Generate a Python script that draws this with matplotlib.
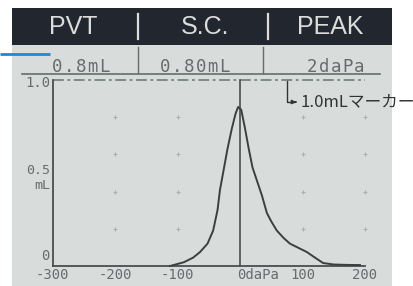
import numpy as np
import matplotlib
matplotlib.use("Agg")
import matplotlib.pyplot as plt

# tympanogram trace (daPa, mL)
pressure = [-112, -90, -75, -64, -52, -43, -36, -32, -26, -20, -13, -7, -3,
            2, 8, 14, 20, 28, 35, 43, 50, 59, 70, 80, 95, 107, 120, 133, 150, 170, 192]
volume = [0.0, 0.02, 0.045, 0.075, 0.12, 0.19, 0.30, 0.41, 0.52, 0.63, 0.74, 0.82, 0.855,
          0.84, 0.74, 0.63, 0.53, 0.45, 0.38, 0.285, 0.24, 0.19, 0.15, 0.12, 0.095, 0.075,
          0.045, 0.016, 0.008, 0.006, 0.005]

header_labels = ["PVT", "S.C.", "PEAK"]
result_labels = ["0.8mL", "0.80mL", "2daPa"]
x_ticks = [-300, -200, -100, 0, 100, 200]
x_tick_labels = ["-300", "-200", "-100", "0daPa", "100", "200"]
grid_x = [-200, -100, 100, 200]
grid_y = [0.2, 0.4, 0.6, 0.8]
marker_level = 1.0
marker_text = "1.0mLマーカー"

W, H = 413, 286
lcd_bg = "#d8dddb"
lcd_ink = "#4a4d4e"
lcd_text = "#676b6d"
mono = "DejaVu Sans Mono"


def lcd_string(ax, x0, y, s, pitch, **kw):
    # LCD glyphs sit on a fixed, wide pitch
    for i, ch in enumerate(s):
        ax.text(x0 + i * pitch, y, ch, ha="left", **kw)


fig = plt.figure(figsize=(W / 100, H / 100), dpi=100)
fig.patch.set_facecolor("white")

# pixel-space layer for the screen frame and header
bg = fig.add_axes([0, 0, 1, 1])
bg.set_xlim(0, W)
bg.set_ylim(H, 0)
bg.axis("off")
bg.add_patch(plt.Rectangle((12, 45), 380, 241, color=lcd_bg, lw=0))
bg.add_patch(plt.Rectangle((12, 8), 380, 37, color="#22262e", lw=0))
bg.plot([0, 50], [54, 54], color="#1e88d8", lw=2, solid_capstyle="butt")

for lbl, cx in zip(header_labels, [73, 205, 330]):
    bg.text(cx, 27, lbl, color="#dcdcdc", fontsize=18, family="Liberation Sans",
            ha="center", va="center")
for cx in [138, 268]:
    bg.plot([cx, cx], [14, 39], color="#dcdcdc", lw=1.6)

for lbl, x0 in zip(result_labels, [52, 160, 307]):
    lcd_string(bg, x0, 72, lbl, 11.8, color=lcd_text, fontsize=12.5, family=mono,
               va="baseline")
for cx in [138, 263]:
    bg.plot([cx, cx], [47, 73], color=lcd_text, lw=1)
bg.plot([22, 380], [73.5, 73.5], color=lcd_text, lw=1.2)

# marker callout
bg.plot([287, 287, 294], [80, 102, 102], color="#333333", lw=1)
bg.annotate("", xy=(299, 102), xytext=(293, 102),
            arrowprops=dict(arrowstyle="-|>", color="#333333", lw=1, mutation_scale=6))
bg.text(300, 102, marker_text, color="#333333", fontsize=12,
        family=["Noto Sans CJK JP", "DejaVu Sans"], ha="left", va="center")

# data axes: -300..200 daPa over px 52.5..365, 0..1.0 mL over px 266..80
ax = fig.add_axes([52.5 / W, (H - 266) / H, 312.5 / W, 186 / H])
ax.set_xlim(-300, 200)
ax.set_ylim(0, 1.0)
ax.patch.set_alpha(0)
for s in ax.spines.values():
    s.set_visible(False)
ax.set_xticks([])
ax.set_yticks([])

gx, gy = np.meshgrid(grid_x, grid_y)
ax.scatter(gx.ravel(), gy.ravel(), marker="+", s=8, lw=0.8, color="#a9b0b0", clip_on=False)

ax.plot([-300, 200], [marker_level, marker_level], color="#7a8282", lw=1.3,
        dashes=(6, 2, 1.5, 2), clip_on=False)
ax.plot([-300, -300], [0, 1.0], color=lcd_ink, lw=1.3, clip_on=False)
ax.plot([0, 0], [0, 1.0], color=lcd_ink, lw=1.2, clip_on=False)
ax.plot([-300, 200], [0, 0], color=lcd_ink, lw=1.3, clip_on=False)
ax.plot(pressure, volume, color="#3c3f40", lw=1.4, clip_on=False)

for t, lbl in zip(x_ticks, x_tick_labels):
    ha = "left" if t == 0 else "center"
    xx = t - 5 if t == 0 else t
    ax.text(xx, -0.012, lbl, color=lcd_text, fontsize=10, family=mono, ha=ha, va="top")

ax.text(-304, 0.985, "1.0", color=lcd_text, fontsize=10, family=mono, ha="right", va="center")
ax.text(-304, 0.515, "0.5", color=lcd_text, fontsize=9.5, family=mono, ha="right", va="center")
ax.text(-304, 0.435, "mL", color=lcd_text, fontsize=9.5, family=mono, ha="right", va="center")
ax.text(-304, 0.055, "0", color=lcd_text, fontsize=10, family=mono, ha="right", va="center")

fig.savefig("out.png", dpi=100)
